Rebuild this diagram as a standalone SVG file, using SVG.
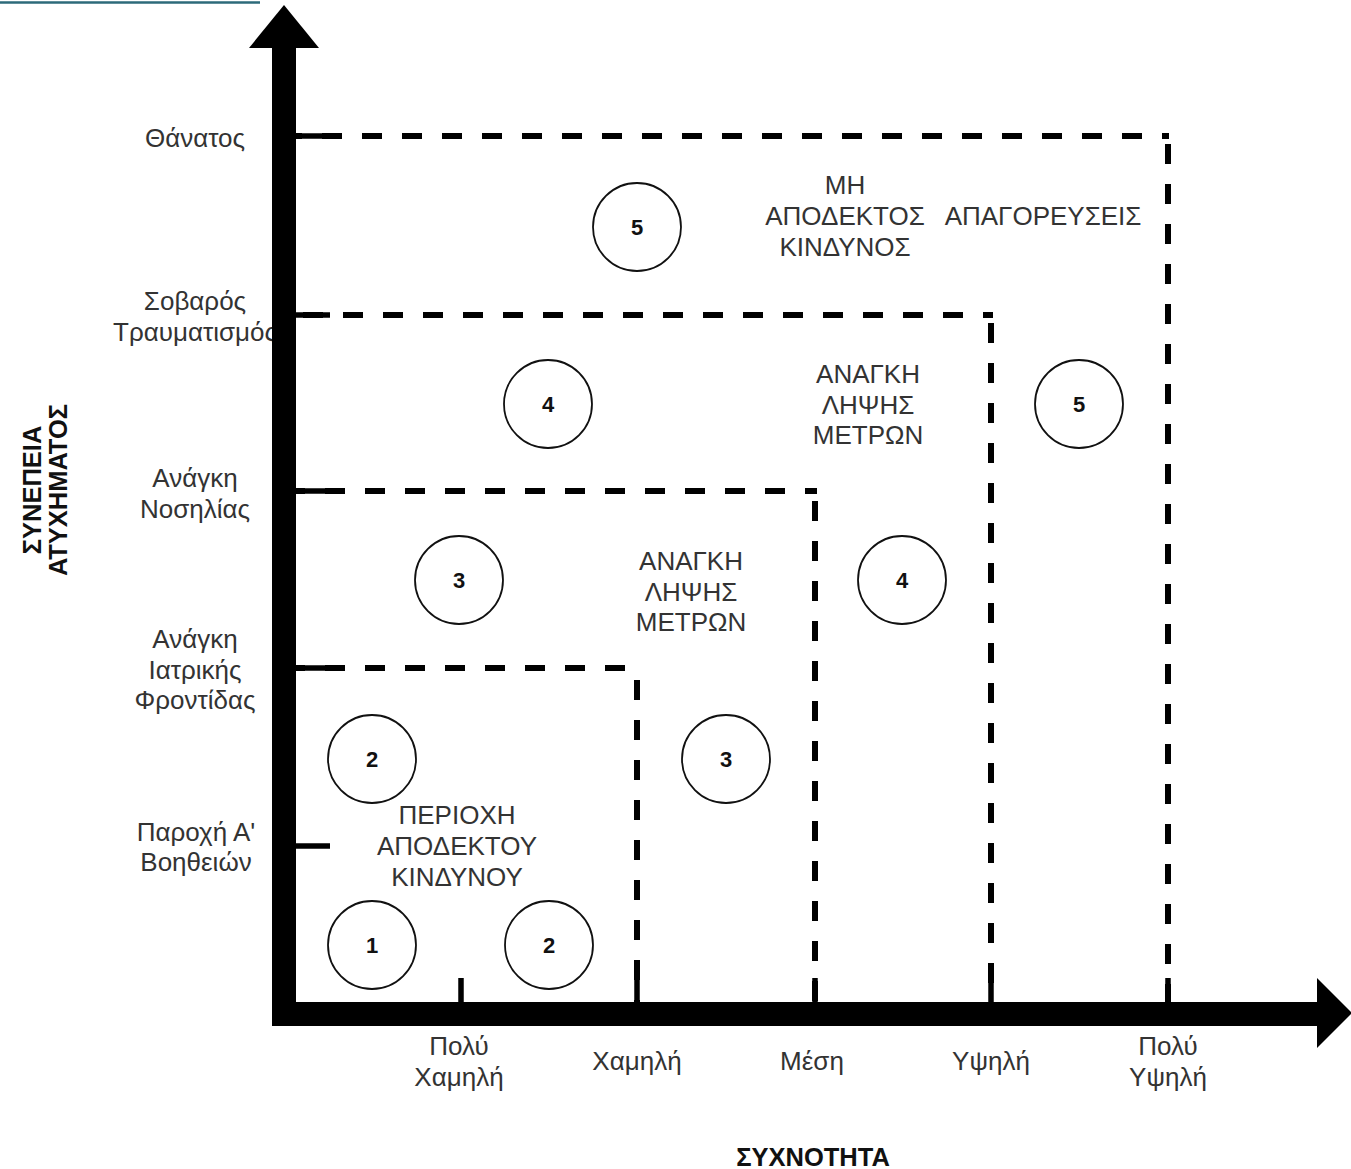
<svg xmlns="http://www.w3.org/2000/svg" width="1351" height="1169" viewBox="0 0 1351 1169">
<style>
.t{font-family:"Liberation Sans",Arial,sans-serif;font-size:26px;fill:#333;text-anchor:middle}
.b{font-family:"Liberation Sans",Arial,sans-serif;font-size:25.5px;font-weight:bold;fill:#111;text-anchor:middle}
.n{font-family:"Liberation Sans",Arial,sans-serif;font-size:22px;font-weight:bold;fill:#111;text-anchor:middle}
.c{fill:#fff;stroke:#111;stroke-width:1.8}
.d{fill:none;stroke:#000;stroke-width:6;stroke-dasharray:20 20}
.k{stroke:#000;stroke-width:5.5}
</style>
<rect width="1351" height="1169" fill="#fff"/>
<line x1="0" y1="2.5" x2="260" y2="2.5" stroke="#2d6a7a" stroke-width="2.5"/>

<g id="ylabels">
<text class="t" x="195" y="147">Θάνατος</text>
<text class="t" x="195" y="310">Σοβαρός<tspan x="195" dy="31">Τραυματισμός</tspan></text>
<text class="t" x="195" y="487">Ανάγκη<tspan x="195" dy="31">Νοσηλίας</tspan></text>
<text class="t" x="195" y="648">Ανάγκη<tspan x="195" dy="31">Ιατρικής</tspan><tspan x="195" dy="30">Φροντίδας</tspan></text>
<text class="t" x="196" y="841">Παροχή Α'<tspan x="196" dy="30">Βοηθειών</tspan></text>
</g>
<g id="xlabels">
<text class="t" x="459" y="1055">Πολύ<tspan x="459" dy="31">Χαμηλή</tspan></text>
<text class="t" x="637" y="1070">Χαμηλή</text>
<text class="t" x="812" y="1070">Μέση</text>
<text class="t" x="991" y="1070">Υψηλή</text>
<text class="t" x="1168" y="1055">Πολύ<tspan x="1168" dy="31">Υψηλή</tspan></text>
</g>
<g id="axis-titles">
<text class="b" x="813" y="1166">ΣΥΧΝΟΤΗΤΑ</text>
<text class="b" transform="translate(45 490) rotate(-90)" x="0" y="-4">ΣΥΝΕΠΕΙΑ<tspan x="0" dy="26">ΑΤΥΧΗΜΑΤΟΣ</tspan></text>
</g>

<g id="connectors">
<path class="d" d="M282 136H1169"/>
<path class="d" d="M1168 144V1002"/>
<path class="d" d="M303 315H993"/>
<path class="d" d="M991 323V1002"/>
<path class="d" d="M285 491H817"/>
<path class="d" d="M815 501V1002"/>
<path class="d" d="M285 668H625"/>
<path class="d" d="M637 680V1002"/>
<g class="k">
<line x1="296" y1="136" x2="330" y2="136"/>
<line x1="296" y1="315" x2="330" y2="315"/>
<line x1="296" y1="491" x2="330" y2="491"/>
<line x1="296" y1="668" x2="330" y2="668"/>
<line x1="296" y1="846" x2="330" y2="846"/>
<line x1="461" y1="978" x2="461" y2="1003"/>
<line x1="637" y1="978" x2="637" y2="1003"/>
<line x1="815" y1="978" x2="815" y2="1003"/>
<line x1="991" y1="978" x2="991" y2="1003"/>
<line x1="1168" y1="978" x2="1168" y2="1003"/>
</g>
<rect x="272" y="46" width="24" height="980" fill="#000"/>
<polygon points="249,48 319,48 284,5" fill="#000"/>
<rect x="272" y="1002" width="1046" height="24" fill="#000"/>
<polygon points="1317,978 1317,1048 1352,1013" fill="#000"/>
</g>

<g id="region-labels">
<text class="t" x="457" y="824">ΠΕΡΙΟΧΗ<tspan x="457" dy="31">ΑΠΟΔΕΚΤΟΥ</tspan><tspan x="457" dy="31">ΚΙΝΔΥΝΟΥ</tspan></text>
<text class="t" x="691" y="570">ΑΝΑΓΚΗ<tspan x="691" dy="31">ΛΗΨΗΣ</tspan><tspan x="691" dy="30">ΜΕΤΡΩΝ</tspan></text>
<text class="t" x="868" y="383">ΑΝΑΓΚΗ<tspan x="868" dy="31">ΛΗΨΗΣ</tspan><tspan x="868" dy="30">ΜΕΤΡΩΝ</tspan></text>
<text class="t" x="845" y="194">ΜΗ<tspan x="845" dy="31">ΑΠΟΔΕΚΤΟΣ</tspan><tspan x="845" dy="31">ΚΙΝΔΥΝΟΣ</tspan></text>
<text class="t" x="1043" y="225">ΑΠΑΓΟΡΕΥΣΕΙΣ</text>
</g>

<g id="c5a"><circle class="c" cx="637" cy="227" r="44"/><text class="n" x="637" y="235">5</text></g>
<g id="c4a"><circle class="c" cx="548" cy="404" r="44"/><text class="n" x="548" y="412">4</text></g>
<g id="c5b"><circle class="c" cx="1079" cy="404" r="44"/><text class="n" x="1079" y="412">5</text></g>
<g id="c3a"><circle class="c" cx="459" cy="580" r="44"/><text class="n" x="459" y="588">3</text></g>
<g id="c4b"><circle class="c" cx="902" cy="580" r="44"/><text class="n" x="902" y="588">4</text></g>
<g id="c2a"><circle class="c" cx="372" cy="759" r="44"/><text class="n" x="372" y="767">2</text></g>
<g id="c3b"><circle class="c" cx="726" cy="759" r="44"/><text class="n" x="726" y="767">3</text></g>
<g id="c1"><circle class="c" cx="372" cy="945" r="44"/><text class="n" x="372" y="953">1</text></g>
<g id="c2b"><circle class="c" cx="549" cy="945" r="44"/><text class="n" x="549" y="953">2</text></g>
</svg>
